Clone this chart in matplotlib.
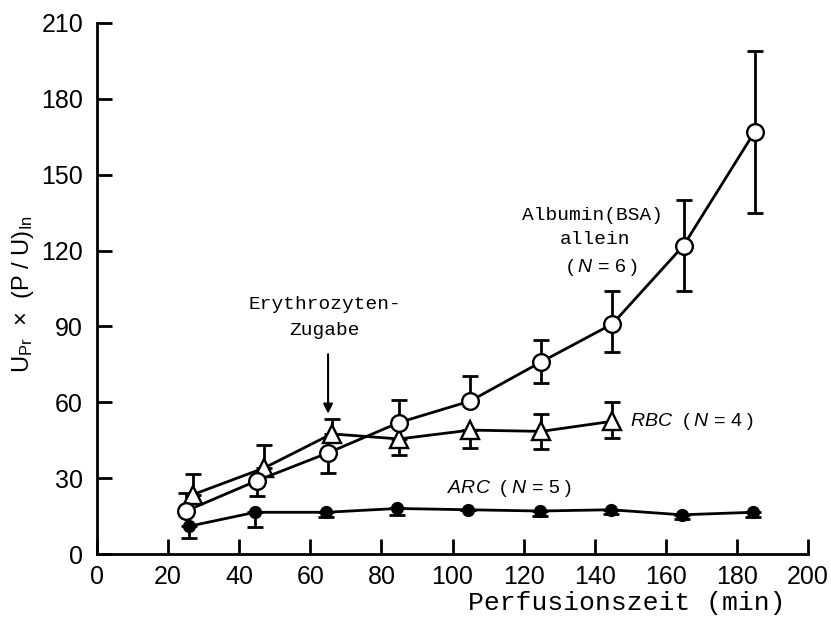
import matplotlib
matplotlib.use("Agg")
import matplotlib.pyplot as plt
import numpy as np

plt.rcParams['font.family'] = ['Liberation Sans', 'DejaVu Sans']
plt.rcParams['mathtext.fontset'] = 'custom'
plt.rcParams['mathtext.rm'] = 'Liberation Sans'
plt.rcParams['mathtext.it'] = 'Liberation Sans:italic'
plt.rcParams['mathtext.default'] = 'regular'

# Albumin (BSA) allein (N = 6) - open circles
alb_x = [25, 45, 65, 85, 105, 125, 145, 165, 185]
alb_y = [17, 29, 40, 52, 60.5, 76, 91, 122, 167]
alb_lo = [0, 6, 8, 0, 0, 8.5, 11, 18, 32]
alb_hi = [7, 0, 0, 9, 10, 8.5, 13, 18, 32]

# RBC (N = 4) - open triangles
rbc_x = [27, 47, 66, 85, 105, 125, 145]
rbc_y = [23.5, 34, 47.5, 45.5, 49, 48.5, 52.5]
rbc_lo = [0, 0, 0, 6.5, 7, 7, 6.5]
rbc_hi = [8, 9, 6, 0, 0, 7, 7.5]

# ARC (N = 5) - filled circles
arc_x = [26, 44.5, 64.5, 84.5, 104.5, 124.5, 144.5, 164.5, 184.5]
arc_y = [11, 16.5, 16.5, 18, 17.5, 17, 17.5, 15.5, 16.5]
arc_lo = [4.5, 6, 2, 2.5, 0, 2, 1.5, 1.5, 2]
arc_hi = [0, 0, 0, 0, 0, 0, 0, 0, 0]

x_ticks = [0, 20, 40, 60, 80, 100, 120, 140, 160, 180, 200]
y_ticks = [0, 30, 60, 90, 120, 150, 180, 210]

fig = plt.figure(figsize=(8.31, 6.2), dpi=100)
ax = fig.add_axes([97/831, 1-554/620, 711/831, 531/620])

lw = 2.0
cap = 5.5
for xs, ys, lo, hi in [(alb_x, alb_y, alb_lo, alb_hi),
                       (rbc_x, rbc_y, rbc_lo, rbc_hi),
                       (arc_x, arc_y, arc_lo, arc_hi)]:
    ax.errorbar(xs, ys, yerr=[lo, hi], fmt='none', ecolor='black',
                elinewidth=lw, capsize=cap, capthick=lw, zorder=2)

ax.plot(alb_x, alb_y, '-', color='black', lw=lw, marker='o', ms=12,
        mfc='white', mec='black', mew=1.7, zorder=4)
ax.plot(rbc_x, rbc_y, '-', color='black', lw=lw, marker='^', ms=13,
        mfc='white', mec='black', mew=1.7, zorder=3)
ax.plot(arc_x, arc_y, '-', color='black', lw=lw, marker='o', ms=8.5,
        mfc='black', mec='black', zorder=4)

ax.set_xlim(0, 200)
ax.set_ylim(0, 210)
ax.set_xticks(x_ticks)
ax.set_yticks(y_ticks)
ax.tick_params(direction='in', length=11, width=2.0, labelsize=18)
ax.tick_params(axis='x', pad=8)
ax.tick_params(axis='y', pad=10)
for s in ['top', 'right']:
    ax.spines[s].set_visible(False)
for s in ['left', 'bottom']:
    ax.spines[s].set_linewidth(2.0)

ax.set_xlabel('Perfusionszeit (min)', family='Liberation Mono', fontsize=19)
ax.xaxis.set_label_coords(0.745, -0.07)
ax.set_ylabel(r'U$_{Pr}$  ×  (P / U)$_{In}$', fontsize=17)
ax.yaxis.set_label_coords(-0.086, 0.49)

mono = dict(family='Liberation Mono', fontsize=14, ha='center', va='center')
ax.text(64, 98.5, 'Erythrozyten-', **mono)
ax.text(64, 88.5, 'Zugabe', **mono)
ax.annotate('', xy=(65, 55.5), xytext=(65, 79),
            arrowprops=dict(arrowstyle='-|>', lw=1.5, color='black',
                            mutation_scale=14, shrinkA=0, shrinkB=0))

ax.text(139.5, 134, 'Albumin(BSA)', **mono)
ax.text(140, 124.5, 'allein', **mono)
ax.text(142, 113.5, r'( $\mathit{N}$ = 6 )', fontsize=14, ha='center', va='center')

ax.text(150, 52.5, r'$\mathit{RBC}$  ( $\mathit{N}$ = 4 )', fontsize=14, ha='left', va='center')
ax.text(98.5, 26, r'$\mathit{ARC}$  ( $\mathit{N}$ = 5 )', fontsize=14, ha='left', va='center')

fig.savefig('out.png', dpi=100)
